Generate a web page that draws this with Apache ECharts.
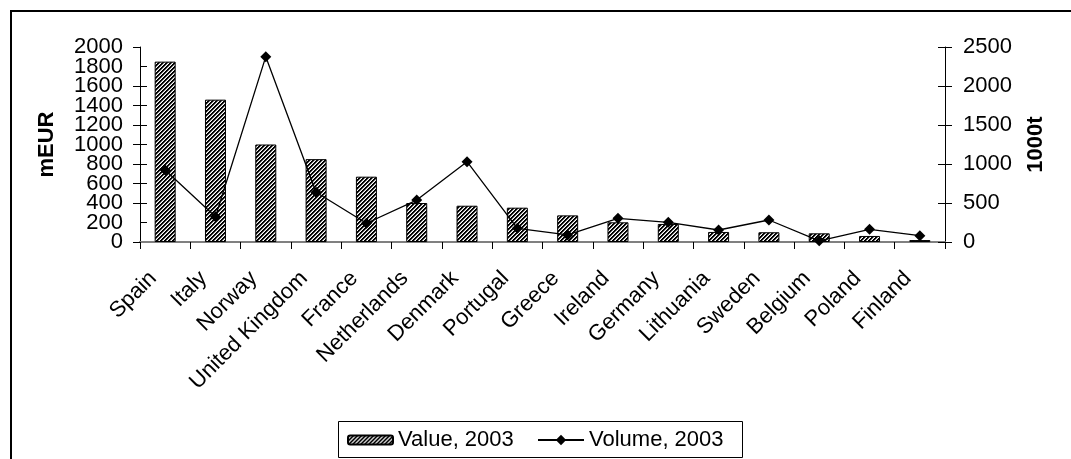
<!DOCTYPE html>
<html>
<head>
<meta charset="utf-8">
<script src="https://cdn.jsdelivr.net/npm/echarts@6/dist/echarts.min.js"></script>
<style>
html,body{margin:0;padding:0;background:#fff;}
#chart{width:1071px;height:459px;}
</style>
</head>
<body>
<div id="chart"></div>
<script>
const categories = ['Spain','Italy','Norway','United Kingdom','France','Netherlands','Denmark','Portugal','Greece','Ireland','Germany','Lithuania','Sweden','Belgium','Poland','Finland'];
const valueEUR = [1850,1460,1000,850,670,400,372,352,273,202,185,103,100,89,62,20];
const volume1000t = [923,324,2376,637,240,538,1030,175,90,303,252,154,282,15,163,81];
const leftTicks = {min:0, max:2000, interval:200};
const rightTicks = {min:0, max:2500, interval:500};
const seriesNames = ['Value, 2003','Volume, 2003'];

function hatch(){
  const c = document.createElement('canvas');
  c.width = 4; c.height = 4;
  const ctx = c.getContext('2d');
  const img = ctx.createImageData(4,4);
  for (let y=0;y<4;y++) for (let x=0;x<4;x++){
    const i=(y*4+x)*4;
    const k = (x+y)%4;
    const v = k < 2 ? 0 : (k === 2 ? 150 : 255);
    img.data[i]=v; img.data[i+1]=v; img.data[i+2]=v; img.data[i+3]=255;
  }
  ctx.putImageData(img,0,0);
  return c;
}
const pattern = {image: hatch(), repeat:'repeat'};
const FONT = 'Arial, "Liberation Sans", sans-serif';
const FS = 22;
const plain = v => String(v);
// labels next to min/max, drawn by the helper axis (ECharts would hide them as overlapping)
const nearEnds = v => (v === leftTicks.min + leftTicks.interval || v === leftTicks.max - leftTicks.interval) ? String(v) : '';

const chart = echarts.init(document.getElementById('chart'), null, {renderer:'canvas'});
const innerTick = {show:true, inside:true, length:7, lineStyle:{color:'#000'}};
const legendText = {fontSize:FS, color:'#000', fontFamily:FONT};
chart.setOption({
  animation:false,
  backgroundColor:'#fff',
  textStyle:{fontFamily:FONT},
  grid:{left:140, right:126, top:47, bottom:217, containLabel:false},
  legend:[
    {left:347, top:429, padding:0, itemWidth:45, itemHeight:9, textStyle:legendText, data:[seriesNames[0]]},
    {left:537, top:429, padding:0, itemWidth:46, itemHeight:13, textStyle:legendText, data:[seriesNames[1]]}
  ],
  xAxis:{
    type:'category', data:categories,
    axisLine:{lineStyle:{color:'#808080', width:2}},
    axisTick:{show:true, length:7, lineStyle:{color:'#000'}},
    axisLabel:{rotate:45, fontSize:FS, color:'#000', margin:21, padding:[0,17,0,0], interval:0, fontFamily:FONT}
  },
  yAxis:[
    {type:'value', min:leftTicks.min, max:leftTicks.max, interval:leftTicks.interval, position:'left',
     name:'mEUR', nameLocation:'middle', nameRotate:90, nameGap:82,
     nameTextStyle:{fontSize:FS, fontWeight:'bold', color:'#000', fontFamily:FONT},
     axisLine:{show:true, lineStyle:{color:'#000'}},
     axisTick:{show:true, length:7, lineStyle:{color:'#000'}},
     axisLabel:{fontSize:FS, color:'#000', margin:17, fontFamily:FONT, formatter:plain,
                showMinLabel:true, showMaxLabel:true},
     splitLine:{show:false}},
    {type:'value', min:rightTicks.min, max:rightTicks.max, interval:rightTicks.interval, position:'right',
     name:'1000t', nameLocation:'middle', nameRotate:90, nameGap:80,
     nameTextStyle:{fontSize:FS, fontWeight:'bold', color:'#000', fontFamily:FONT},
     axisLine:{show:true, lineStyle:{color:'#000'}},
     axisTick:{show:true, length:7, lineStyle:{color:'#000'}},
     axisLabel:{fontSize:FS, color:'#000', margin:18, fontFamily:FONT, formatter:plain,
                showMinLabel:true, showMaxLabel:true},
     splitLine:{show:false}},
    {type:'value', min:leftTicks.min, max:leftTicks.max, interval:leftTicks.interval, position:'left',
     axisLine:{show:false}, splitLine:{show:false}, axisTick:innerTick,
     axisLabel:{fontSize:FS, color:'#000', margin:17, fontFamily:FONT, formatter:nearEnds,
                showMinLabel:false, showMaxLabel:false}},
    {type:'value', min:rightTicks.min, max:rightTicks.max, interval:rightTicks.interval, position:'right',
     axisLine:{show:false}, splitLine:{show:false}, axisTick:innerTick, axisLabel:{show:false}}
  ],
  series:[
    {name:seriesNames[0], type:'bar', yAxisIndex:0, data:valueEUR, barWidth:21,
     itemStyle:{color:pattern, borderColor:'#000', borderWidth:1}},
    {name:seriesNames[1], type:'line', yAxisIndex:1, data:volume1000t,
     symbol:'diamond', symbolSize:11, showSymbol:true,
     lineStyle:{color:'#000', width:1.3}, itemStyle:{color:'#000'}}
  ],
  graphic:[
    {type:'rect', shape:{x:11, y:11, width:1200, height:600}, style:{fill:null, stroke:'#000', lineWidth:2}, silent:true},
    {type:'rect', shape:{x:338.5, y:421.5, width:404, height:36}, style:{fill:null, stroke:'#000', lineWidth:1}, silent:true}
  ]
});
</script>
</body>
</html>
